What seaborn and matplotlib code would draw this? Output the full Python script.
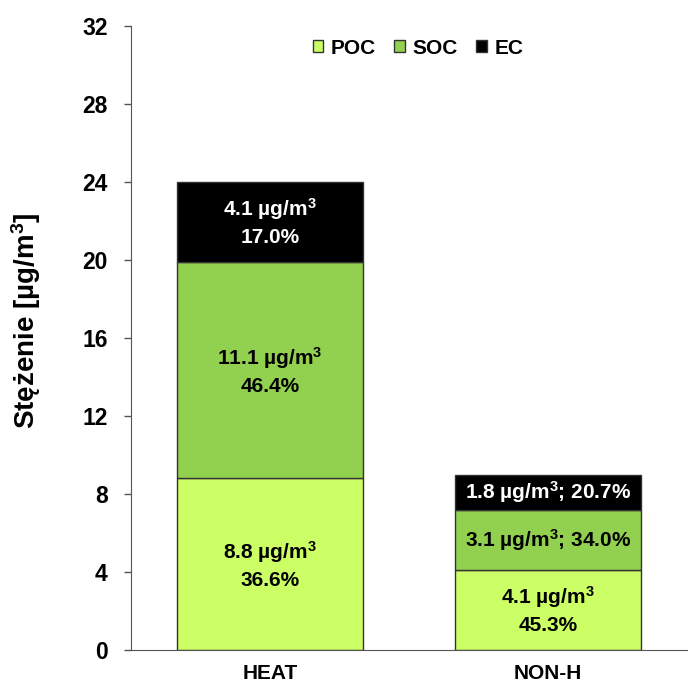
import numpy as np
import pandas as pd
import matplotlib
matplotlib.use("Agg")
import matplotlib.pyplot as plt
import seaborn as sns

# dane
okresy = ["HEAT", "NON-H"]
poc = [8.8, 4.1]
soc = [11.1, 3.1]
ec = [4.1, 1.8]
poc_proc = [36.6, 45.3]
soc_proc = [46.4, 34.0]
ec_proc = [17.0, 20.7]

dane = pd.DataFrame({"okres": okresy, "POC": poc, "SOC": soc, "EC": ec})
skladniki = ["POC", "SOC", "EC"]
kolory = {"POC": "#CCFF66", "SOC": "#92D050", "EC": "#000000"}
procenty = {"POC": poc_proc, "SOC": soc_proc, "EC": ec_proc}

sns.set_style("white")
plt.rcParams["font.family"] = ["Liberation Sans", "DejaVu Sans"]
plt.rcParams["font.weight"] = "bold"
plt.rcParams["text.color"] = "black"
plt.rcParams["mathtext.fontset"] = "custom"
plt.rcParams["mathtext.bf"] = "Liberation Sans:bold"
plt.rcParams["mathtext.rm"] = "Liberation Sans:bold"
plt.rcParams["mathtext.default"] = "bf"

jedn = r"µg/m$^{3}$"

fig = plt.figure(figsize=(6.94, 6.84), dpi=100)
ax = fig.add_axes([0.189, 0.0497, 0.801, 0.9123])

dol = np.zeros(len(okresy))
for s in skladniki:
    sns.barplot(data=dane, x="okres", y=s, color=kolory[s], bottom=dol,
                width=0.67, edgecolor="#333333", linewidth=1.0,
                saturation=1, label=s, ax=ax)
    for i, v in enumerate(dane[s]):
        kol_txt = "white" if s == "EC" else "black"
        srodek = dol[i] + v / 2
        if i == 0 or s == "POC":
            txt = f"{v:.1f} {jedn}\n{procenty[s][i]:.1f}%"
            ax.text(i, srodek, txt, ha="center", va="center", fontsize=15,
                    fontweight="bold", color=kol_txt, linespacing=1.4)
        else:
            txt = f"{v:.1f} {jedn}; {procenty[s][i]:.1f}%"
            ax.text(i, srodek, txt, ha="center", va="center", fontsize=15,
                    fontweight="bold", color=kol_txt)
    dol = dol + dane[s].values

ax.set_ylim(0, 32)
ax.set_xlim(-0.5, 1.5)
ax.set_yticks(np.arange(0, 33, 4))
ax.set_xticks([0.5], minor=True)
ax.tick_params(axis="x", which="major", length=0, pad=10, labelsize=15,
               labelcolor="black")
ax.tick_params(axis="x", which="minor", length=5, width=1, color="#555555")
ax.tick_params(axis="y", length=5, width=1, color="#555555", labelsize=16.5,
               left=True, pad=12, labelcolor="black")
for t in ax.get_xticklabels() + ax.get_yticklabels():
    t.set_fontweight("bold")
ax.set_xlabel("")
ax.set_ylabel(r"Stężenie [µg/m$^{3}$]", fontsize=20, fontweight="bold",
              color="black")
ax.yaxis.set_label_coords(-0.158, 0.527)
sns.despine(ax=ax)
ax.spines["left"].set_color("#555555")
ax.spines["bottom"].set_color("#555555")

leg = ax.legend(loc="upper center", ncol=3, frameon=False,
                handlelength=0.5, handleheight=0.5, handletextpad=0.38,
                columnspacing=0.87, prop={"weight": "bold", "size": 15},
                bbox_to_anchor=(0.516, 1.01))
for t in leg.get_texts():
    t.set_color("black")

fig.savefig("out.png", dpi=100)
